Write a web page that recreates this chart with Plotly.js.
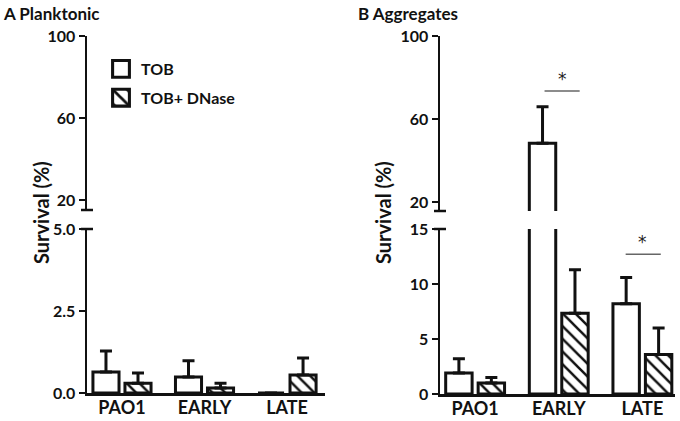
<!DOCTYPE html>
<html>
<head>
<meta charset="utf-8">
<script src="https://cdn.plot.ly/plotly-3.0.1.min.js"></script>
<style>html,body{margin:0;padding:0;background:#fff}#chart{width:680px;height:421px}</style>
</head>
<body>
<div id="chart"></div>
<script>
// ---- data ----
const groups = ["PAO1", "EARLY", "LATE"];
const seriesNames = ["TOB", "TOB+ DNase"];

// Panel A: Planktonic (survival %)
const plankTOB = [0.64, 0.49, 0.0];
const plankTOBsem = [0.64, 0.49, null];
const plankDNase = [0.30, 0.15, 0.55];
const plankDNaseSem = [0.31, 0.15, 0.52];

// Panel B: Aggregates (survival %)
const aggTOB = [1.9, 48.3, 8.2];
const aggTOBsem = [1.3, 17.6, 2.4];
const aggDNase = [1.0, 7.35, 3.6];
const aggDNaseSem = [0.5, 3.95, 2.4];

// tick labels
const ticksLowA = [0, 2.5, 5];
const ticksLowB = [0, 5, 10, 15];
const ticksHigh = [20, 60, 100];

// ---- styling ----
const FONT = "Lato, 'Open Sans', sans-serif";
const INK = "#111";
const W = 680, H = 421;
const px = v => v / W, py = v => 1 - v / H;

function barTrace(name, y, sem, xa, ya, hatched, showleg) {
  const t = {
    type: "bar", name: name, x: groups, y: y,
    xaxis: xa, yaxis: ya,
    width: 0.316, offset: hatched ? 0.036 : -0.352,
    marker: {color: "#fff", line: {color: INK, width: 3}},
    error_y: {type: "data", symmetric: false, array: sem,
              arrayminus: sem.map(() => 0), color: INK, thickness: 3, width: 6},
    showlegend: showleg, legendgroup: name, hoverinfo: "skip"
  };
  if (hatched) {
    t.marker.pattern = {shape: "\\", fgcolor: INK, bgcolor: "#fff", size: 9, solidity: 0.28, fillmode: "replace"};
  }
  return t;
}

const data = [
  barTrace(seriesNames[0], plankTOB, plankTOBsem, "x", "y", false, true),
  barTrace(seriesNames[1], plankDNase, plankDNaseSem, "x", "y", true, true),
  barTrace(seriesNames[0], plankTOB, plankTOBsem, "x", "y2", false, false),
  barTrace(seriesNames[1], plankDNase, plankDNaseSem, "x", "y2", true, false),
  barTrace(seriesNames[0], aggTOB, aggTOBsem, "x2", "y3", false, false),
  barTrace(seriesNames[1], aggDNase, aggDNaseSem, "x2", "y3", true, false),
  barTrace(seriesNames[0], aggTOB, aggTOBsem, "x2", "y4", false, false),
  barTrace(seriesNames[1], aggDNase, aggDNaseSem, "x2", "y4", true, false)
];

const tickFont = {family: FONT, size: 16, color: INK, weight: "bold"};
function yax(domain, range, tickvals, anchor, fmt) {
  return {domain: domain, range: range, tickvals: tickvals, tickformat: fmt || "",
    anchor: anchor, showline: true, linecolor: INK, linewidth: 2.5,
    ticks: "outside", ticklen: 6, tickwidth: 2.5, tickcolor: INK,
    showgrid: false, zeroline: false, automargin: false, fixedrange: true,
    tickfont: tickFont};
}
function xax(domain, range, anchor) {
  return {domain: domain, range: range, type: "category", anchor: anchor,
    showline: true, linecolor: INK, linewidth: 2.5, ticks: "",
    ticklabelstandoff: -3,
    showgrid: false, zeroline: false, automargin: false, fixedrange: true,
    tickfont: {family: FONT, size: 18, color: INK, weight: "bold"}};
}

function breakCap(xp, yp) {
  return {type: "line", xref: "paper", yref: "paper",
    x0: px(xp - 6), x1: px(xp + 6), y0: py(yp), y1: py(yp),
    line: {color: INK, width: 2.5}};
}

const layout = {
  width: W, height: H,
  margin: {l: 0, r: 0, t: 0, b: 0},
  paper_bgcolor: "#fff", plot_bgcolor: "rgba(0,0,0,0)",
  barmode: "overlay",
  font: {family: FONT, color: INK},
  xaxis: xax([px(87), px(325)], [-0.424, 2.46], "y"),
  yaxis: yax([py(393), py(229)], [0, 5], ticksLowA, "x", ".1f"),
  yaxis2: yax([py(210), py(36)], [15.12, 100], ticksHigh, "x"),
  xaxis2: xax([px(440), px(675)], [-0.42, 2.39], "y3"),
  yaxis3: yax([py(394), py(229)], [0, 15], ticksLowB, "x2"),
  yaxis4: yax([py(211), py(36)], [15.66, 100], ticksHigh, "x2"),
  legend: {x: px(101), y: py(52), xanchor: "left", yanchor: "top",
    traceorder: "grouped", tracegroupgap: 5, bgcolor: "rgba(0,0,0,0)",
    font: {family: FONT, size: 16, color: INK, weight: "bold"}},
  shapes: [
    breakCap(87, 210), breakCap(87, 229),
    breakCap(440, 211), breakCap(440, 229),
    {type: "line", xref: "x2", yref: "y4", x0: 0.83, x1: 1.25, y0: 73.5, y1: 73.5,
     line: {color: "#666", width: 1.5}},
    {type: "line", xref: "x2", yref: "y3", x0: 1.8, x1: 2.22, y0: 12.7, y1: 12.7,
     line: {color: "#666", width: 1.5}}
  ],
  annotations: [
    {text: "A Planktonic", xref: "paper", yref: "paper", x: px(1), y: py(1),
     xanchor: "left", yanchor: "top", showarrow: false,
     font: {family: FONT, size: 17, color: INK, weight: "bold"}},
    {text: "B Aggregates", xref: "paper", yref: "paper", x: px(356), y: py(1),
     xanchor: "left", yanchor: "top", showarrow: false,
     font: {family: FONT, size: 17, color: INK, weight: "bold"}},
    {text: "Survival (%)", xref: "paper", yref: "paper", x: px(27), y: py(213),
     textangle: -90, showarrow: false,
     font: {family: FONT, size: 20, color: INK, weight: "bold"}},
    {text: "Survival (%)", xref: "paper", yref: "paper", x: px(383), y: py(213),
     textangle: -90, showarrow: false,
     font: {family: FONT, size: 20, color: INK, weight: "bold"}},
    {text: "*", xref: "x2", yref: "y4", x: 1.04, y: 73.5, yanchor: "bottom",
     showarrow: false, font: {family: "DejaVu Sans", size: 17, color: "#222"}},
    {text: "*", xref: "x2", yref: "y3", x: 2.0, y: 12.7, yanchor: "bottom",
     showarrow: false, font: {family: "DejaVu Sans", size: 17, color: "#222"}}
  ]
};

Plotly.newPlot("chart", data, layout, {staticPlot: true, displayModeBar: false}).then(gd => {
  // enlarge legend swatches to match the reference's larger boxes
  gd.querySelectorAll(".legend .legendpoints path").forEach(p => {
    p.setAttribute("transform", "translate(20,0) scale(1.4)");
    p.style.strokeWidth = "2.2px";
  });
});
</script>
</body>
</html>
